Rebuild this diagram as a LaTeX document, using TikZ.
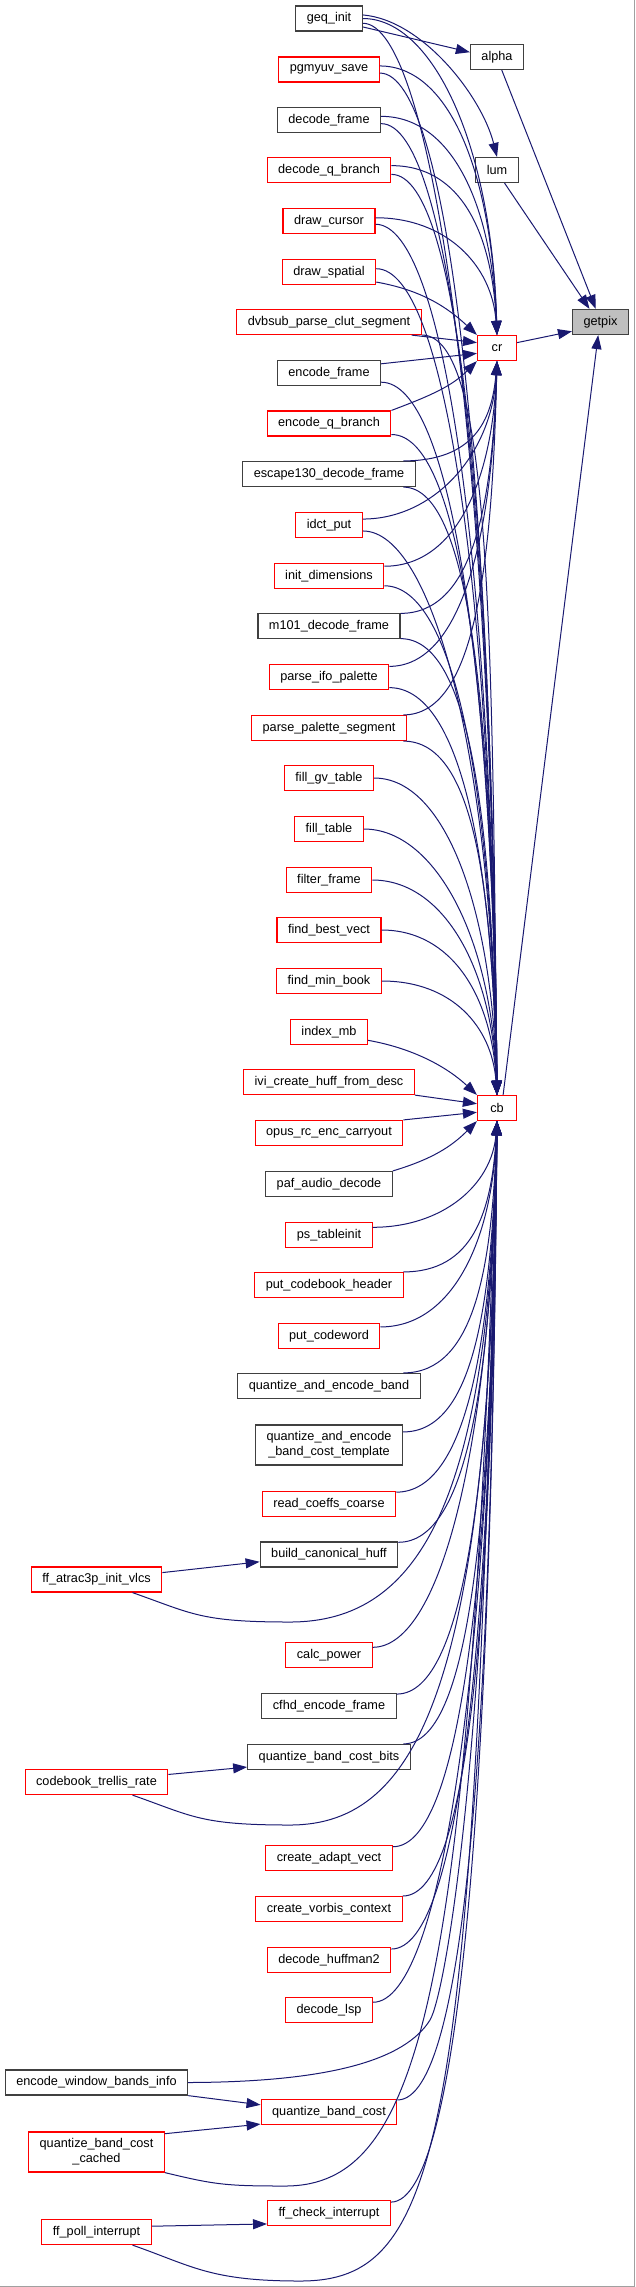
\documentclass[tikz,border=0pt]{standalone}
\usepackage{fontspec}
\setmainfont{Liberation Sans}
\usepackage{xcolor}
\usetikzlibrary{arrows.meta, positioning, calc}

\definecolor{edgeblue}{HTML}{191970}
\definecolor{boxred}{HTML}{FF0000}
\definecolor{boxgrey}{HTML}{404040}
\definecolor{selgrey}{HTML}{BFBFBF}
\definecolor{framegrey}{HTML}{A0A0A0}

\tikzset{
  fnbox/.style={draw=boxgrey, line width=1.2pt, fill=white, inner xsep=11pt, inner ysep=3pt,
    minimum width=39pt, minimum height=25pt, align=center, font=\fontsize{12.7}{15}\selectfont},
  fnred/.style={fnbox, draw=boxred},
  fnsel/.style={fnbox, fill=selgrey},
  callline/.style={draw=edgeblue, line width=1pt, -{Triangle[length=14pt,width=10pt]}}
}

\begin{document}
\begin{tikzpicture}[x=1pt,y=1pt]
    \useasboundingbox (0,0) rectangle (635,-2287);
    \draw[framegrey, line width=1.2pt] (0,-2286.4) -- (634.4,-2286.4) -- (634.4,0);

    \node[fnsel] (getpix) at (600.5,-322) {getpix};
    \node[fnbox] (alpha) at (497,-57) {alpha};
    \node[fnbox] (lum) at (497,-170) {lum};
    \node[fnred] (cr) at (497,-348) {cr};
    \node[fnred] (cb) at (497,-1108) {cb};

    \foreach \nm/\txt/\yy/\sty in {
        geq/geq\_init/18.5/fnbox, pgmyuv/pgmyuv\_save/69.5/fnred,
        decframe/decode\_frame/120/fnbox, decq/decode\_q\_branch/170/fnred,
        cursor/draw\_cursor/221/fnred, spatial/draw\_spatial/272/fnred,
        dvbsub/dvbsub\_parse\_clut\_segment/322/fnred, encframe/encode\_frame/373/fnbox,
        encq/encode\_q\_branch/423.5/fnred, escape/escape130\_decode\_frame/474/fnbox,
        idct/idct\_put/525/fnred, initdim/init\_dimensions/576/fnred,
        mdec/m101\_decode\_frame/626/fnbox, ifo/parse\_ifo\_palette/677/fnred,
        palseg/parse\_palette\_segment/728/fnred, gvtable/fill\_gv\_table/778/fnred,
        filltable/fill\_table/829/fnred, filter/filter\_frame/880/fnred,
        bestvect/find\_best\_vect/930/fnred, minbook/find\_min\_book/981/fnred,
        indexmb/index\_mb/1032/fnred, ivi/ivi\_create\_huff\_from\_desc/1082/fnred,
        opus/opus\_rc\_enc\_carryout/1133/fnred, paf/paf\_audio\_decode/1184/fnbox,
        pstable/ps\_tableinit/1235/fnred, cbheader/put\_codebook\_header/1285/fnred,
        codeword/put\_codeword/1336/fnred, qaeband/quantize\_and\_encode\_band/1386/fnbox,
        coarse/read\_coeffs\_coarse/1504/fnred, canon/build\_canonical\_huff/1554.5/fnbox,
        calcpow/calc\_power/1655/fnred, cfhd/cfhd\_encode\_frame/1706/fnbox,
        qbcbits/quantize\_band\_cost\_bits/1757/fnbox, adapt/create\_adapt\_vect/1858/fnred,
        vorbis/create\_vorbis\_context/1909/fnred, huff2/decode\_huffman2/1960/fnred,
        lsp/decode\_lsp/2010/fnred, qbc/quantize\_band\_cost/2112/fnred,
        checkint/ff\_check\_interrupt/2213/fnred}
        \node[\sty] (\nm) at (329,-\yy) {\txt};
    \node[fnbox, minimum height=40pt] (qaetmpl) at (329,-1445) {quantize\_and\_encode\\\_band\_cost\_template};

    \node[fnred] (atrac) at (96.5,-1579.5) {ff\_atrac3p\_init\_vlcs};
    \node[fnred] (trellis) at (96.5,-1782) {codebook\_trellis\_rate};
    \node[fnbox] (ewbi) at (96.5,-2082.5) {encode\_window\_bands\_info};
    \node[fnred, minimum height=40pt] (qbccached) at (96.5,-2152) {quantize\_band\_cost\\\_cached};
    \node[fnred] (pollint) at (96.5,-2232) {ff\_poll\_interrupt};

    % calls into getpix and its helpers
    \draw[callline] (geq.-14) -- (alpha.170);
    \draw[callline] (geq.6) .. controls +(60pt,-5pt) and +(-15pt,60pt) .. (lum.north);
    \draw[callline] (alpha.-70) -- (getpix.110);
    \draw[callline] (lum.-60) -- (getpix.130);
    \draw[callline] (cr.15) -- (getpix.198);
    \draw[callline] (cb.65) -- (getpix.-100);

    % callers of cr
    \foreach \nm/\an in {geq/0, pgmyuv/4, decframe/4, decq/4, cursor/4}
        \draw[callline] let \p1=(\nm.\an), \p2=(cr.north) in
            (\nm.\an) .. controls (\x1+70pt,\y1) and (\x2-5pt,{\y2-0.6*(\y2-\y1)}) .. (cr.north);
    \foreach \nm in {escape, idct, initdim, mdec, ifo, palseg}
        \draw[callline] let \p1=(\nm.10), \p2=(cr.south) in
            (\nm.10) .. controls (\x1+70pt,\y1) and (\x2-5pt,{\y2-0.6*(\y2-\y1)}) .. (cr.south);
    \draw[callline] (spatial.-12) .. controls +(45pt,-8pt) and +(-30pt,28pt) .. (cr.north west);
    \draw[callline] (dvbsub.-9) -- (cr.165);
    \draw[callline] (encframe.10) -- (cr.195);
    \draw[callline] (encq.north east) .. controls +(40pt,15pt) and +(-25pt,-25pt) .. (cr.south west);

    % callers of cb
    \foreach \nm/\an in {geq/-8, pgmyuv/-4, decframe/-4, decq/-4, cursor/-4, spatial/4,
        dvbsub/-8, encframe/-10, encq/-10, escape/-10, idct/-10, initdim/-10, mdec/-10,
        ifo/-10, palseg/-10, gvtable/0, filltable/0, filter/0, bestvect/0, minbook/0}
        \draw[callline] let \p1=(\nm.\an), \p2=(cb.north) in
            (\nm.\an) .. controls (\x1+70pt,\y1) and (\x2-5pt,{\y2-0.6*(\y2-\y1)}) .. (cb.north);
    \foreach \nm in {pstable, cbheader, codeword, qaeband, qaetmpl, coarse, canon, calcpow,
        cfhd, qbcbits, adapt, vorbis, huff2, lsp, qbc, checkint}
        \draw[callline] let \p1=(\nm.10), \p2=(cb.south) in
            (\nm.10) .. controls (\x1+70pt,\y1) and (\x2-5pt,{\y2-0.6*(\y2-\y1)}) .. (cb.south);
    \draw[callline] (indexmb.-12) .. controls +(45pt,-8pt) and +(-30pt,28pt) .. (cb.north west);
    \draw[callline] (ivi.south east) -- (cb.168);
    \draw[callline] (opus.north east) -- (cb.192);
    \draw[callline] (paf.north east) .. controls +(40pt,12pt) and +(-25pt,-25pt) .. (cb.south west);

    % second level callers
    \draw[callline] (atrac.6) -- (canon.186);
    \draw[callline] (atrac.-20) .. controls +(60pt,-21pt) and +(-90pt,0pt) .. (290,-1622)
        .. controls +(130pt,0pt) and (490,-1500) .. (cb.south);
    \draw[callline] (trellis.6) -- (qbcbits.187);
    \draw[callline] (trellis.-20) .. controls +(60pt,-21pt) and +(-90pt,0pt) .. (290,-1825)
        .. controls +(130pt,0pt) and (490,-1680) .. (cb.south);
    \draw[callline] (ewbi.south east) -- (qbc.174);
    \draw[callline] (ewbi.east) .. controls (330,-2082) and (405,-2060) .. (430,-2020)
        .. controls (445,-1995) and (490,-1750) .. (cb.south);
    \draw[callline] (qbccached.15) -- (qbc.190);
    \draw[callline] (qbccached.south east) .. controls +(50pt,-12pt) and +(-60pt,0pt) .. (285,-2186)
        .. controls +(135pt,0pt) and (470,-2000) .. (cb.south);
    \draw[callline] (pollint.6) -- (checkint.190);
    \draw[callline] (pollint.-20) .. controls +(60pt,-21pt) and +(-90pt,0pt) .. (300,-2281)
        .. controls +(140pt,0pt) and (475,-2150) .. (cb.south);
\end{tikzpicture}
\end{document}
